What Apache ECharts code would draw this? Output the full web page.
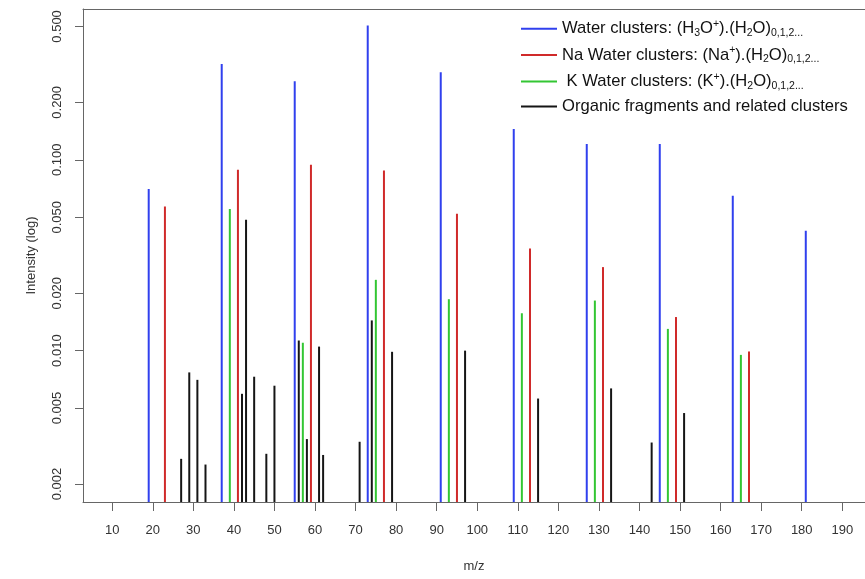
<!DOCTYPE html>
<html>
<head>
<meta charset="utf-8">
<script src="https://cdn.jsdelivr.net/npm/echarts@6/dist/echarts.min.js"></script>
<style>
  html, body { margin: 0; padding: 0; background: #fff; }
  #chart { width: 865px; height: 579px; }
</style>
</head>
<body>
<div id="chart"></div>
<script>
// peaks: m/z and intensity
const waterMz = [19, 37, 55, 73, 91, 109, 127, 145, 163, 181]
const waterInt = [0.0703, 0.318, 0.258, 0.506, 0.288, 0.145, 0.121, 0.121, 0.0648, 0.0425]

const naMz = [23, 41, 59, 77, 95, 113, 131, 149, 167]
const naInt = [0.057, 0.0887, 0.0942, 0.0879, 0.0521, 0.0343, 0.0274, 0.015, 0.0099]

const kMz = [39, 57, 75, 93, 111, 129, 147, 165]
const kInt = [0.0552, 0.011, 0.0235, 0.0186, 0.0157, 0.0183, 0.013, 0.0095]

const orgMz = [27, 29, 31, 33, 42, 43, 45, 48, 50, 56, 58, 61, 62, 71, 74, 79, 97, 115, 133, 143, 151]
const orgInt = [0.00271, 0.00769, 0.00703, 0.00253, 0.00594, 0.0485, 0.0073, 0.00288, 0.00655, 0.0113,
  0.00344, 0.0105, 0.00284, 0.00333, 0.0144, 0.00986, 0.01, 0.00561, 0.00634, 0.0033, 0.00471]

const xTicks = [10, 20, 30, 40, 50, 60, 70, 80, 90, 100, 110, 120, 130, 140, 150, 160, 170, 180, 190]
const yTicks = [0.002, 0.005, 0.01, 0.02, 0.05, 0.1, 0.2, 0.5]

// plot region limits (the right edge of the box falls just outside the picture)
const X_MIN = 2.8
const X_MAX = 195.6
const Y_MIN = 0.00161
const Y_MAX = 0.617

const FONT = 'Liberation Sans, Arial, sans-serif'
const AXIS_COLOR = '#666'

const legendText = {
  'Water clusters': '{t|Water clusters: (H}{sb|3}{t|O}{sp|+}{t|).(H}{sb|2}{t|O)}{sb|0,1,2...}',
  'Na Water clusters': '{t|Na Water clusters: (Na}{sp|+}{t|).(H}{sb|2}{t|O)}{sb|0,1,2...}',
  'K Water clusters': '{t| K Water clusters: (K}{sp|+}{t|).(H}{sb|2}{t|O)}{sb|0,1,2...}',
  'Organic fragments': '{t|Organic fragments and related clusters}'
}

const pairs = (xs, ys) => xs.map((x, i) => [x, ys[i]])

// vertical stick from the bottom of the plot up to the peak
const stick = (params, api) => {
  const top = api.coord([api.value(0), api.value(1)])
  const base = api.coord([api.value(0), Y_MIN])
  return {
    type: 'line',
    shape: { x1: top[0], y1: base[1], x2: top[0], y2: top[1] },
    style: { stroke: api.visual('color'), lineWidth: 2 }
  }
}

const makeSeries = (name, color, xs, ys) => ({
  name,
  type: 'custom',
  coordinateSystem: 'cartesian2d',
  xAxisIndex: 0,
  yAxisIndex: 0,
  renderItem: stick,
  itemStyle: { color },
  encode: { x: 0, y: 1 },
  data: pairs(xs, ys)
})

const chart = echarts.init(document.getElementById('chart'))

const option = {
  animation: false,
  backgroundColor: '#fff',
  textStyle: { fontFamily: FONT },
  grid: {
    left: 83,
    right: 0,
    top: 9,
    bottom: 77
  },
  legend: {
    orient: 'vertical',
    left: 521,
    top: 18.7,
    padding: 0,
    itemWidth: 36,
    itemHeight: 2,
    itemGap: 6.4,
    icon: 'rect',
    formatter: name => legendText[name],
    textStyle: {
      color: '#111',
      fontFamily: FONT,
      rich: {
        t: { fontSize: 16.6, lineHeight: 20, color: '#111', fontFamily: FONT },
        sb: { fontSize: 10.5, lineHeight: 20, verticalAlign: 'bottom', color: '#111', fontFamily: FONT },
        sp: { fontSize: 10.5, lineHeight: 20, verticalAlign: 'top', color: '#111', fontFamily: FONT }
      }
    },
    data: ['Water clusters', 'Na Water clusters', 'K Water clusters', 'Organic fragments']
  },
  xAxis: [
    {
      type: 'value',
      min: X_MIN,
      max: X_MAX,
      name: 'm/z',
      nameLocation: 'middle',
      nameGap: 58,
      nameTextStyle: { color: '#333', fontSize: 13, fontFamily: FONT },
      axisLine: { show: true, lineStyle: { color: AXIS_COLOR, width: 1 } },
      axisTick: { show: true, length: 9, customValues: xTicks, lineStyle: { color: AXIS_COLOR } },
      axisLabel: { customValues: xTicks, margin: 22, color: '#333', fontSize: 13, fontFamily: FONT },
      splitLine: { show: false }
    },
    {
      // top edge of the plot box
      type: 'value',
      position: 'top',
      min: X_MIN,
      max: X_MAX,
      axisLine: { show: true, lineStyle: { color: AXIS_COLOR, width: 1 } },
      axisTick: { show: false },
      axisLabel: { show: false },
      splitLine: { show: false }
    }
  ],
  yAxis: {
    type: 'log',
    logBase: 10,
    min: Y_MIN,
    max: Y_MAX,
    name: 'Intensity (log)',
    nameLocation: 'middle',
    nameRotate: 90,
    nameGap: 45,
    nameTextStyle: { color: '#333', fontSize: 13, fontFamily: FONT },
    axisLine: { show: true, lineStyle: { color: AXIS_COLOR, width: 1 } },
    axisTick: { show: true, length: 8, customValues: yTicks, lineStyle: { color: AXIS_COLOR } },
    axisLabel: {
      customValues: yTicks,
      rotate: 90,
      margin: 19,
      color: '#333',
      fontSize: 13,
      fontFamily: FONT,
      formatter: v => Number(v).toFixed(3)
    },
    splitLine: { show: false }
  },
  series: [
    makeSeries('Water clusters', '#3040ee', waterMz, waterInt),
    makeSeries('Na Water clusters', '#d02a2a', naMz, naInt),
    makeSeries('K Water clusters', '#33c633', kMz, kInt),
    makeSeries('Organic fragments', '#151515', orgMz, orgInt)
  ]
}

chart.setOption(option)
</script>
</body>
</html>
